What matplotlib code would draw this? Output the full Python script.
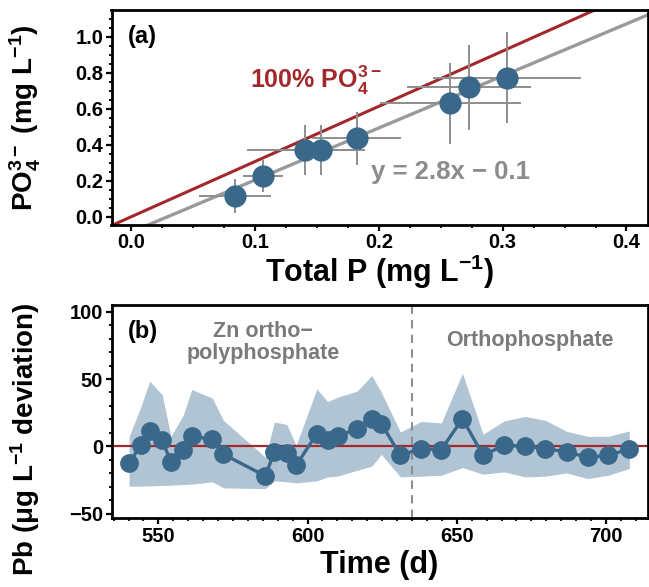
import matplotlib
matplotlib.use('Agg')
import matplotlib.pyplot as plt
import numpy as np
from matplotlib.ticker import MultipleLocator

# panel (a): phosphate vs total P
total_p = [0.0838, 0.1064, 0.1401, 0.1535, 0.1822, 0.2578, 0.2725, 0.3036]
total_p_err = [0.029, 0.016, 0.047, 0.035, 0.036, 0.057, 0.050, 0.060]
po4 = [0.115, 0.226, 0.371, 0.370, 0.436, 0.630, 0.719, 0.772]
po4_err = [0.095, 0.087, 0.139, 0.140, 0.148, 0.224, 0.236, 0.253]
fit_slope, fit_intercept = 2.89, -0.085
po4_per_p = 94.97 / 30.97   # 100% PO4 line

# panel (b): Pb deviation over time
days = [540.2, 544.1, 547.1, 551.3, 554.2, 558.3, 561.2, 568.1, 571.8, 585.8,
        588.9, 593.0, 596.2, 603.1, 606.7, 610.1, 616.6, 621.5, 624.7, 631.1,
        638.1, 644.8, 651.9, 658.8, 665.8, 672.8, 679.7, 686.8, 693.9, 700.8, 707.8]
pb_dev = [-12.3, 0.7, 11.1, 4.4, -11.6, -2.5, 7.4, 5.2, -5.9, -22.0,
          -4.2, -4.9, -14.1, 9.4, 4.9, 7.4, 13.1, 20.5, 16.8, -6.7,
          -1.7, -2.5, 20.5, -6.7, 0.7, 0.0, -1.7, -4.2, -8.2, -6.7, -2.0]
pb_upper = [7.4, 29.1, 48.4, 38.3, 7.4, 23.0, 42.2, 35.8, 19.3, -8.0,
            18.0, 16.3, 0.7, 42.7, 33.3, 36.5, 41.0, 52.6, 40.2, 10.6,
            18.5, 17.3, 54.3, 8.9, 18.8, 22.2, 19.3, 11.1, 7.4, 7.4, 11.4]
pb_lower = [-29.6, -29.6, -29.4, -29.1, -28.9, -28.4, -28.1, -26.4, -30.9, -31.4,
            -25.7, -26.4, -27.2, -25.7, -22.7, -22.2, -17.8, -14.8, -6.0, -22.7,
            -22.2, -21.5, -15.8, -20.7, -19.0, -22.7, -22.2, -19.8, -24.0, -21.5, -16.5]
switch_day = 635

dot_color = '#3a688a'
band_color = '#b0c4d4'
red = '#a3282b'
gray = '#8e8e8e'

plt.rcParams['font.family'] = ['Liberation Sans', 'DejaVu Sans']
plt.rcParams['font.weight'] = 'bold'
plt.rcParams['mathtext.fontset'] = 'custom'
plt.rcParams['mathtext.rm'] = 'Liberation Sans:bold'
plt.rcParams['mathtext.it'] = 'Liberation Sans:bold'
plt.rcParams['mathtext.bf'] = 'Liberation Sans:bold'
plt.rcParams['mathtext.default'] = 'bf'

W, H = 649, 587
fig = plt.figure(figsize=(W / 100, H / 100), dpi=100)
ax1 = fig.add_axes([111.5 / W, 1 - 225 / H, 536 / W, 215 / H])
ax2 = fig.add_axes([111.5 / W, 1 - 518.3 / H, 536 / W, 213.3 / H])


def style(ax):
    for s in ax.spines.values():
        s.set_linewidth(2.0)
        s.set_color('black')
    ax.tick_params(which='major', direction='out', length=4, width=1.6,
                   labelsize=14.5, pad=2)
    ax.tick_params(which='minor', direction='out', length=2.2, width=1.3)
    for lab in ax.get_xticklabels() + ax.get_yticklabels():
        lab.set_fontweight('bold')


# ---- panel (a)
ax1.set_xlim(-0.016, 0.417)
ax1.set_ylim(-0.046, 1.148)
xl = np.array(ax1.get_xlim())
ax1.plot(xl, po4_per_p * xl, color=red, lw=2.2, zorder=2)
ax1.plot(xl, fit_slope * xl + fit_intercept, color='#9a9a9a', lw=2.4, zorder=2)
ax1.errorbar(total_p, po4, xerr=total_p_err, yerr=po4_err, fmt='none',
             ecolor=gray, elinewidth=1.4, capsize=0, zorder=3)
ax1.plot(total_p, po4, 'o', color=dot_color, ms=16, mec='none', zorder=4)
ax1.xaxis.set_major_locator(MultipleLocator(0.1))
ax1.xaxis.set_minor_locator(MultipleLocator(0.025))
ax1.yaxis.set_major_locator(MultipleLocator(0.2))
ax1.yaxis.set_minor_locator(MultipleLocator(0.05))
style(ax1)
ax1.set_xlabel('Total P (mg L$^{-1}$)', fontsize=22, fontweight='bold')
ax1.set_ylabel('PO$_4^{3-}$ (mg L$^{-1}$)', fontsize=20, fontweight='bold')
ax1.xaxis.set_label_coords(0.5, -0.13)
ax1.yaxis.set_label_coords(-0.128, 0.5)
ax1.text(0.03, 0.93, '(a)', transform=ax1.transAxes, fontsize=17,
         fontweight='bold', va='top', ha='left')
ax1.text(0.096, 0.715, '100% PO$_4^{3-}$', color=red, fontsize=18,
         fontweight='bold', va='baseline')
ax1.text(0.194, 0.248, 'y = 2.8x \u2212 0.1', color='#8c8c8c', fontsize=18.5,
         fontweight='bold', va='center')

# ---- panel (b)
ax2.set_xlim(534.3, 713.9)
ax2.set_ylim(-53.5, 105)
ax2.fill_between(days, pb_lower, pb_upper, color=band_color, lw=0, zorder=1)
ax2.axhline(0, color=red, lw=1.6, zorder=2)
ax2.axvline(switch_day, color=gray, lw=1.5, ls=(0, (4, 3)), zorder=2)
ax2.plot(days, pb_dev, '-o', color=dot_color, lw=2.4, ms=13.5, mec='none', zorder=3)
ax2.xaxis.set_major_locator(MultipleLocator(50))
ax2.xaxis.set_minor_locator(MultipleLocator(5))
ax2.yaxis.set_major_locator(MultipleLocator(50))
ax2.yaxis.set_minor_locator(MultipleLocator(10))
style(ax2)
ax2.set_xlabel('Time (d)', fontsize=22, fontweight='bold')
ax2.set_ylabel('Pb (\u03bcg L$^{-1}$ deviation)', fontsize=20, fontweight='bold')
ax2.xaxis.set_label_coords(0.5, -0.15)
ax2.yaxis.set_label_coords(-0.13, 0.37)
ax2.text(0.03, 0.93, '(b)', transform=ax2.transAxes, fontsize=17,
         fontweight='bold', va='top', ha='left')
ax2.text(585.2, 77, 'Zn ortho\u2212\npolyphosphate', color='#7a7a7a', fontsize=15.5,
         fontweight='bold', ha='center', va='center', linespacing=1.05)
ax2.text(674.5, 78.5, 'Orthophosphate', color='#7a7a7a', fontsize=15.5,
         fontweight='bold', ha='center', va='center')

fig.savefig('out.png', dpi=100)
